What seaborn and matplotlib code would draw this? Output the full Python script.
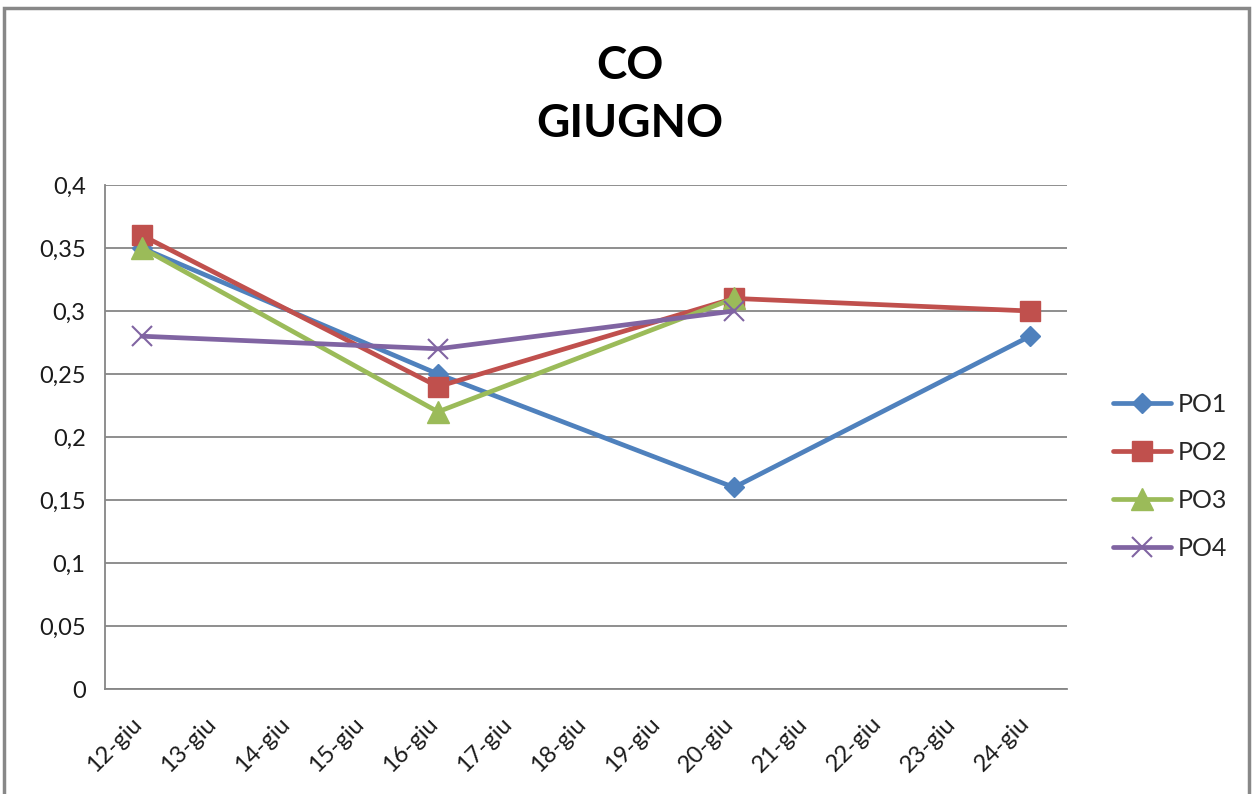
import pandas as pd
import numpy as np
import seaborn as sns
import matplotlib.pyplot as plt
from matplotlib.patches import Rectangle

# ******************
# data
# ******************
days = ['12-giu', '13-giu', '14-giu', '15-giu', '16-giu', '17-giu', '18-giu',
        '19-giu', '20-giu', '21-giu', '22-giu', '23-giu', '24-giu']

po1_days = ['12-giu', '16-giu', '20-giu', '24-giu']
po1 = [0.35, 0.25, 0.16, 0.28]

po2_days = ['12-giu', '16-giu', '20-giu', '24-giu']
po2 = [0.36, 0.24, 0.31, 0.30]

po3_days = ['12-giu', '16-giu', '20-giu']
po3 = [0.35, 0.22, 0.31]

po4_days = ['12-giu', '16-giu', '20-giu']
po4 = [0.28, 0.27, 0.30]

y_ticks = [0, 0.05, 0.1, 0.15, 0.2, 0.25, 0.3, 0.35, 0.4]

series = [
    ('PO1', po1_days, po1, '#4F81BD', 'D', 10),
    ('PO2', po2_days, po2, '#C0504D', 's', 15),
    ('PO3', po3_days, po3, '#9BBB59', '^', 16),
    ('PO4', po4_days, po4, '#8064A2', 'x', 14),
]

# ******************
# plot
# ******************
sns.set_theme(style="white")
plt.rcParams['font.family'] = ['Lato', 'DejaVu Sans']

fig = plt.figure(figsize=(12.53, 7.94), dpi=100)
ax = fig.add_axes([105 / 1253, 1 - 689 / 794, (1067 - 105) / 1253, (689 - 185) / 794])

pos = {d: i for i, d in enumerate(days)}
for name, d, vals, color, marker, ms in series:
    df = pd.DataFrame({'x': [pos[k] for k in d], 'y': vals})
    mew = 1.5 if marker == 'x' else 1
    sns.lineplot(data=df, x='x', y='y', ax=ax, color=color, linewidth=3.4,
                 marker=marker, markersize=ms, markeredgecolor=color,
                 markeredgewidth=mew, label=name)

ax.set_xlim(-0.5, len(days) - 0.5)
ax.set_ylim(0, 0.4)
ax.set_xticks(range(len(days)))
ax.set_xticklabels([])
ax.set_xticks(np.arange(-0.5, len(days), 1), minor=True)
ax.tick_params(axis='x', which='major', length=0)
ax.tick_params(axis='x', which='minor', length=6, width=1.3, color='#868686', direction='out')
for i, lab in enumerate(days):
    ax.text(i + 0.05, -0.019, lab, rotation=45, ha='right', va='top',
            fontsize=17, color='#1a1a1a', transform=ax.transData)

ax.set_yticks(y_ticks)
ax.set_yticklabels([('%g' % v).replace('.', ',') for v in y_ticks], fontsize=17, color='#1a1a1a')
ax.tick_params(axis='y', length=8, width=1.3, color='#868686', direction='out', pad=6)
ax.yaxis.grid(True, color='#868686', linewidth=1.3)
ax.set_axisbelow(True)
for s in ['top', 'right']:
    ax.spines[s].set_visible(False)
for s in ['left', 'bottom']:
    ax.spines[s].set_color('#868686')
    ax.spines[s].set_linewidth(1.3)
ax.set_xlabel('')
ax.set_ylabel('')

ax.legend(loc='center left', bbox_to_anchor=(1090 / 1253, 1 - 476 / 794),
          bbox_transform=fig.transFigure, frameon=False, fontsize=18,
          handlelength=2.35, handletextpad=0.25, labelspacing=1.0)

fig.text(0.503, 1 - 79 / 794, 'CO', ha='center', va='baseline',
         fontsize=33, fontweight='bold', color='black')
fig.text(0.503, 1 - 137 / 794, 'GIUGNO', ha='center', va='baseline',
         fontsize=33, fontweight='bold', color='black')

fig.patches.append(Rectangle((4 / 1253, -0.02), 1245 / 1253, 1 - 8 / 794 + 0.02,
                             transform=fig.transFigure, fill=False,
                             edgecolor='#888888', linewidth=2.5))

plt.savefig('out.png', dpi=100)
